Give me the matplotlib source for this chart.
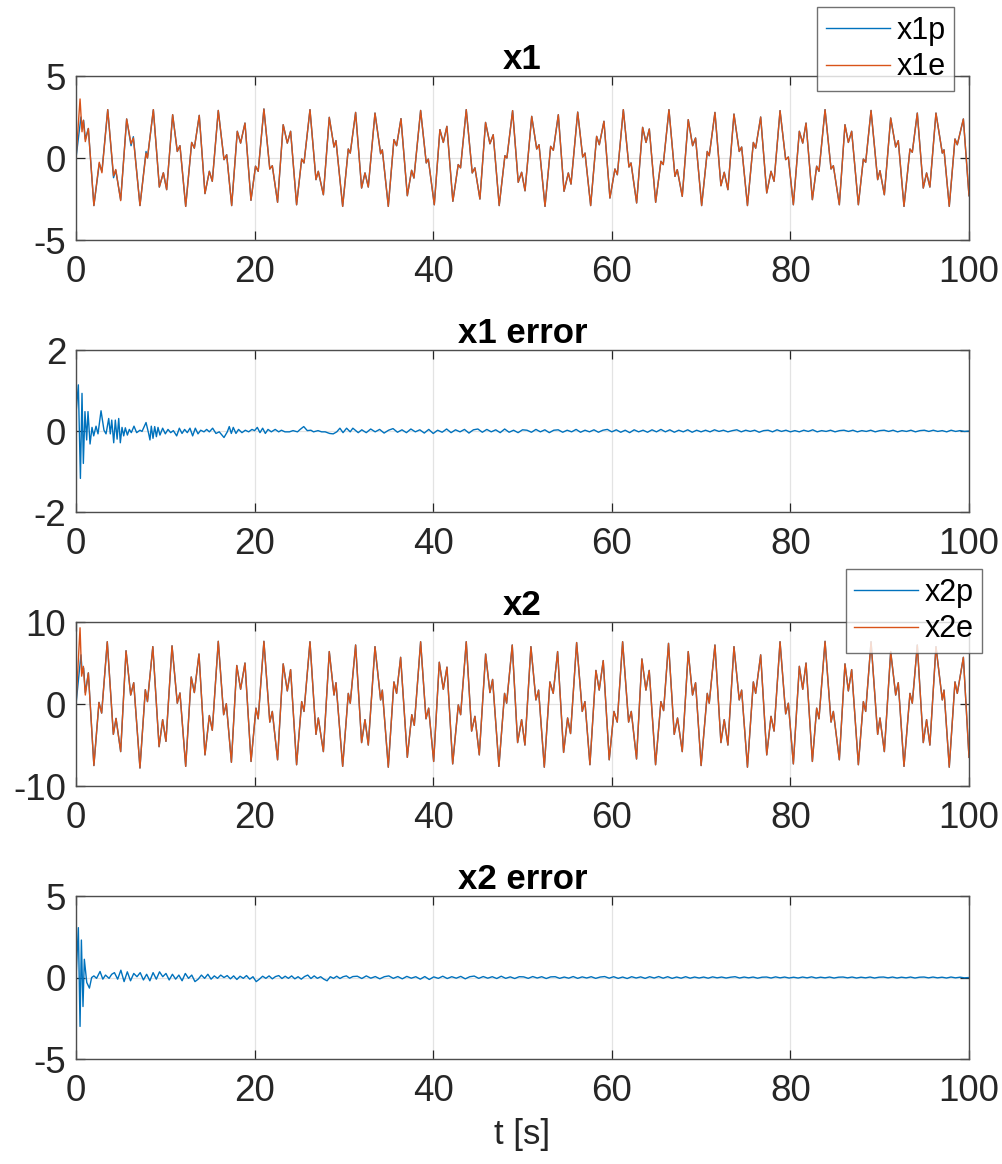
import numpy as np
import matplotlib
matplotlib.use("Agg")
import matplotlib.pyplot as plt

# ---- data (extrema of each trace) ----
x1e_t = [0, 0.45, 0.67, 0.82, 1.04, 1.38, 2.0, 2.6, 2.9, 3.55, 4.2, 4.45, 5.0, 5.67, 6.16, 6.42,
         7.16, 7.84, 8.0, 8.66, 9.33, 9.78, 10.15, 10.82, 11.34, 11.64, 12.28, 12.95, 13.25, 13.8,
         14.44, 14.93, 15.26, 15.93, 16.57, 16.87, 17.43, 18.06, 18.43, 18.92, 19.59, 20.1, 20.4,
         21.04, 21.7, 21.98, 22.57, 23.2, 23.66, 24.03, 24.7, 25.27, 25.53, 26.2, 26.87, 27.13,
         27.7, 28.36, 28.89, 29.11, 29.86, 30.49, 30.71, 31.31, 31.98, 32.36, 32.73, 33.48, 34.11,
         34.3, 34.97, 35.6, 35.9, 36.39, 37.1, 37.58, 37.84, 38.59, 39.22, 39.45, 40.12, 40.75,
         41.13, 41.53, 42.2, 42.8, 43.06, 43.7, 44.37, 44.67, 45.23, 45.86, 46.35, 46.72, 47.39,
         48.03, 48.25, 48.89, 49.52, 49.9, 50.28, 51.03, 51.59, 51.85, 52.52, 53.15, 53.45, 54.01,
         54.65, 55.13, 55.43, 56.18, 56.74, 57.0, 57.63, 58.3, 58.6, 59.12, 59.79, 60.35, 60.62,
         61.29, 61.92, 62.15, 62.78, 63.45, 63.83, 64.2, 64.91, 65.5, 65.76, 66.4, 67.07, 67.33,
         67.89, 68.56, 69.05, 69.38, 70.06, 70.69, 70.91, 71.55, 72.22, 72.59, 73.0, 73.68, 74.27,
         74.54, 75.19, 75.85, 76.11, 76.67, 77.35, 77.83, 78.17, 78.84, 79.47, 79.77, 80.33, 81.0,
         81.38, 81.75, 82.46, 82.94, 83.2, 83.88, 84.55, 84.81, 85.48, 86.11, 86.49, 86.86, 87.61,
         88.17, 88.43, 89.03, 89.77, 90.03, 90.52, 91.23, 91.79, 92.08, 92.72, 93.39, 93.65, 94.21,
         94.88, 95.25, 95.62, 96.3, 97.01, 97.2, 97.79, 98.43, 98.69, 99.37, 100.0]
x1e_v = [0, 3.6, 1.6, 2.3, 1.0, 1.8, -2.9, -0.26, -0.9, 2.95, -1.08, -0.7, -2.6, 2.38, 0.87, 1.22,
         -2.9, 0.3, 0, 2.95, -1.77, -0.9, -1.93, 2.64, 0.4, 0.75, -2.95, 0.95, 0.6, 2.6,
         -2.17, -0.81, -1.42, 2.9, -0.1, 0.2, -2.9, 1.63, 0.91, 2.13, -2.58, -0.5, -0.81,
         2.99, -0.67, -0.47, -2.7, 2.03, 0.91, 1.63, -2.85, -0.06, -0.3, 2.95, -1.32, -0.81,
         -2.24, 2.48, 0.67, 1.06, -2.95, 0.55, 0.3, 2.78, -1.83, -0.91, -1.77, 2.74, 0.26,
         0.5, -2.95, 1.12, 0.75, 2.4, -2.3, -0.75, -1.22, 2.9, -0.3, -0.06, -2.85, 1.73,
         0.95, 1.93, -2.64, -0.4, -0.6, 2.95, -0.91, -0.6, -2.5, 2.17, 0.87, 1.42, -2.9,
         0.14, 0, 2.89, -1.48, -0.87, -2.0, 2.54, 0.55, 0.81, -2.95, 0.71, 0.47, 2.64,
         -2.03, -0.91, -1.59, 2.8, 0.06, 0.3, -2.9, 1.32, 0.81, 2.24, -2.44, -0.67, -1.02,
         2.95, -0.55, -0.3, -2.74, 1.87, 0.95, 1.77, -2.7, -0.2, -0.4, 2.95, -1.12, -0.71,
         -2.34, 2.34, 0.75, 1.22, -2.9, 0.4, 0.14, 2.78, -1.69, -0.87, -1.93, 2.68, 0.4,
         0.67, -2.9, 0.95, 0.6, 2.5, -2.13, -0.81, -1.42, 2.89, -0.1, 0.06, -2.85, 1.63,
         0.91, 2.13, -2.54, -0.5, -0.81, 2.95, -0.67, -0.47, -2.85, 2.03, 0.95, 1.63, -2.85,
         -0.06, -0.26, 2.9, -1.32, -0.77, -2.24, 2.44, 0.67, 1.06, -2.95, 0.55, 0.35, 2.74,
         -1.83, -0.91, -1.77, 2.74, 0.3, 0.5, -2.95, 1.16, 0.81, 2.38, -2.3]

# observer estimate differs only at the start, then follows x1e
x1p_head_t = [0, 0.55, 0.7, 0.85, 1.04, 1.38, 2.0, 2.6, 2.9, 3.55, 4.2, 4.45, 5.0, 5.67, 6.16, 6.42, 7.16, 7.84]
x1p_head_v = [0, 2.5, 1.8, 2.3, 1.15, 1.8, -2.9, -0.35, -0.8, 2.95, -1.2, -0.75, -2.55, 2.38, 0.75, 1.3, -2.9, 0.4]

x2e_t = [0, 0.45, 0.63, 0.82, 1.04, 1.38, 2.0, 2.57, 2.87, 3.5, 4.18, 4.48, 5.0, 5.6, 6.12, 6.46,
         7.16, 7.76, 8.0, 8.6, 9.3, 9.7, 10.07, 10.75, 11.34, 11.64, 12.28, 12.9, 13.25, 13.77,
         14.44, 14.93, 15.26, 15.93, 16.53, 16.83, 17.4, 18.0, 18.43, 18.92, 19.6, 20.15, 20.4,
         21.04, 21.7, 21.98, 22.57, 23.2, 23.66, 24.03, 24.7, 25.27, 25.53, 26.2, 26.87, 27.13,
         27.7, 28.36, 28.89, 29.11, 29.86, 30.49, 30.71, 31.31, 31.98, 32.36, 32.73, 33.48, 34.11,
         34.3, 34.97, 35.6, 35.9, 36.35, 37.1, 37.6, 37.88, 38.59, 39.19, 39.49, 40.05, 40.68,
         41.13, 41.54, 42.18, 42.81, 43.07, 43.7, 44.3, 44.67, 45.16, 45.87, 46.35, 46.65, 47.36,
         47.99, 48.22, 48.85, 49.45, 49.9, 50.27, 50.94, 51.5, 51.8, 52.44, 53.07, 53.44, 53.93,
         54.6, 55.05, 55.38, 56.06, 56.69, 56.99, 57.55, 58.22, 58.59, 59.04, 59.71, 60.24, 60.61,
         61.21, 61.88, 62.18, 62.77, 63.37, 63.82, 64.19, 64.9, 65.5, 65.8, 66.35, 66.99, 67.36,
         67.89, 68.56, 69.04, 69.38, 70.0, 70.69, 70.91, 71.55, 72.22, 72.59, 73.0, 73.68, 74.27,
         74.54, 75.19, 75.85, 76.11, 76.67, 77.35, 77.83, 78.17, 78.84, 79.47, 79.77, 80.33, 81.0,
         81.38, 81.75, 82.46, 82.94, 83.2, 83.88, 84.55, 84.81, 85.48, 86.11, 86.49, 86.86, 87.61,
         88.17, 88.43, 89.03, 89.77, 90.03, 90.52, 91.23, 91.79, 92.08, 92.72, 93.39, 93.65, 94.21,
         94.88, 95.25, 95.62, 96.3, 97.01, 97.2, 97.79, 98.43, 98.69, 99.37, 100.0]
x2e_v = [0, 9.3, 3.4, 4.6, 1.1, 3.8, -7.5, 0.2, -1.1, 7.6, -3.7, -1.75, -5.8, 6.5, 1.1, 2.6,
         -7.8, 1.75, 0.3, 7.0, -5.2, -1.9, -4.55, 7.1, 0.1, 1.35, -7.6, 3.3, 1.4, 6.1,
         -6.2, -1.4, -3.2, 7.65, -1.3, 0.04, -7.1, 4.7, 1.8, 5.0, -7.0, -0.5, -1.8,
         7.65, -2.2, -0.9, -6.8, 4.9, 1.6, 4.2, -7.4, 0.3, -0.9, 7.6, -3.7, -1.7,
         -5.8, 6.4, 1.1, 2.6, -7.6, 1.3, 0.1, 7.2, -4.7, -1.9, -5.0, 7.0, 0.5,
         1.7, -7.7, 2.7, 1.3, 5.7, -6.5, -1.3, -2.6, 7.6, -1.8, -0.5, -7.0, 5.1,
         1.8, 4.5, -7.3, -0.1, -1.3, 7.6, -3.3, -1.5, -6.2, 6.1, 1.4, 3.0, -7.6,
         1.3, 0.1, 7.2, -4.7, -1.9, -5.0, 7.0, 0.5, 1.7, -7.7, 2.7, 1.3, 6.4,
         -5.9, -1.7, -3.6, 7.5, -0.9, 0.3, -7.4, 4.1, 1.7, 5.3, -6.8, -0.9, -2.2,
         7.6, -2.2, -0.9, -6.7, 5.5, 1.7, 4.1, -7.4, 0.3, -0.8, 7.4, -3.7, -1.7,
         -5.8, 6.4, 1.1, 2.6, -7.5, 1.3, 0.1, 7.2, -4.7, -1.9, -5.0, 7.0, 0.5,
         1.7, -7.7, 2.7, 1.3, 6.0, -6.2, -1.5, -3.3, 7.6, -1.2, 0.1, -7.3, 4.6,
         1.8, 5.0, -7.0, -0.5, -1.8, 7.65, -2.2, -0.9, -6.8, 4.9, 1.6, 4.2, -7.4,
         0.3, -0.9, 7.6, -3.7, -1.7, -5.8, 6.4, 1.1, 2.6, -7.6, 1.3, 0.1, 7.2,
         -4.7, -1.9, -5.0, 7.0, 0.5, 1.7, -7.7, 2.7, 1.3, 5.7, -6.5]
x2p_head_t = [0, 0.55, 0.7, 0.85, 1.04, 1.38, 2.0]
x2p_head_v = [0, 6.0, 3.8, 4.4, 1.4, 3.8, -7.5]

# x1 error: transient read point by point, then the small residual ripple
e1_t = [0, 0.26, 0.49, 0.67, 0.82, 1.0, 1.19, 1.34, 1.57, 1.79, 1.98, 2.24, 2.46, 2.8, 3.13, 3.36,
        3.66, 3.84, 4.0, 4.22, 4.4, 4.6, 4.78, 4.96, 5.15, 5.34, 5.52, 5.75, 5.97, 6.19, 6.49,
        6.79, 7.16, 7.39, 7.84, 8.13, 8.28, 8.43, 8.62, 8.81, 9.0, 9.18, 9.4, 9.7, 10.0, 10.3,
        10.6, 10.9, 11.27, 11.57, 11.87, 12.16, 12.46, 12.76, 13.06, 13.36, 13.66, 13.96, 14.33,
        14.63, 14.93, 15.3, 15.67, 16.04, 16.57, 16.94, 17.16, 17.39, 17.61, 17.91, 18.2, 18.58,
        18.96, 19.33, 19.7, 20.0, 20.3, 20.6, 20.9, 21.2, 21.5, 21.87, 22.3, 22.7, 23.0, 23.4,
        23.9, 24.3, 24.8, 25.1, 25.5, 25.9, 26.3, 26.6, 27.1, 27.5, 27.9, 28.4, 28.8, 29.2,
        29.55, 29.9, 30.3, 30.7, 31.0, 31.6]
e1_v = [0.44, 1.14, -1.17, 0.93, -0.8, 0.48, -0.22, 0.48, -0.32, 0.09, -0.12, 0.12, -0.07, 0.5, 0.02, -0.07,
        0.31, -0.07, 0.27, -0.29, 0.27, -0.2, 0.31, -0.29, 0.09, -0.12, 0.08, -0.1, 0.04, -0.04, 0.12,
        -0.04, 0.02, -0.01, 0.21, -0.06, -0.22, 0.12, -0.18, 0.11, -0.14, 0.09, -0.1, 0.07, -0.07, 0.04,
        -0.04, 0.01, -0.12, 0.07, -0.06, 0.04, -0.04, 0.07, -0.12, 0.07, -0.07, 0.02, -0.02,
        0.04, -0.02, 0.07, -0.06, -0.02, -0.16, -0.02, 0.11, -0.06, 0.09, -0.06, 0.04, -0.04,
        0.02, -0.02, 0.04, 0.01, 0.09, -0.04, 0.07, -0.06, 0.04, -0.02, 0.04, -0.02, 0.02, -0.02,
        -0.02, 0.01, -0.02, 0.04, 0.11, 0.01, 0.02, -0.02, 0.01, -0.02, -0.02, -0.06, -0.07, -0.02,
        0.07, -0.04, 0.07, -0.02, 0.07, -0.04]
e1_tail_v = [0.03, -0.04, 0.05, -0.02, 0.04, -0.05, 0.02, 0.06, -0.03, 0.03, -0.04, 0.05, -0.02,
             0.03, -0.05, 0.04, -0.06, 0.02, -0.03, 0.05, -0.04, 0.03, -0.02, 0.04, -0.05, 0.03,
             0.05, -0.03, 0.04, -0.02, 0.03, -0.04, 0.05, -0.03, 0.02, -0.04, 0.03,
             0.02, -0.03, 0.04, -0.02, 0.03, -0.04, 0.02, 0.03, -0.03, 0.02, -0.02, 0.04, -0.03,
             0.02, -0.02, 0.03, -0.03, 0.02, 0.04, -0.02, 0.03, -0.03, 0.02, -0.04, 0.03, -0.02,
             0.02, -0.03, 0.03, -0.02, 0.04, -0.02, 0.03, -0.03, 0.02, -0.02, 0.03, -0.03, 0.02, -0.02,
             0.02, -0.02, 0.03, -0.01, 0.02, -0.02, 0.01, 0.03, -0.02, 0.02, -0.01, 0.02, -0.03,
             0.01, 0.02, -0.02, 0.03, -0.01, 0.02, -0.02, 0.01, -0.02, 0.02, -0.01, 0.03, -0.02,
             0.01, -0.01, 0.02, -0.02, 0.01, 0.02, -0.01, 0.02, -0.02, 0.01, -0.01, 0.02, -0.02,
             0.01, 0.02, -0.01, 0.02, -0.02, 0.01, -0.01, 0.02, -0.02, 0.01, 0.02, -0.01, 0.02,
             -0.01, 0.01, -0.02, 0.02, -0.01, 0.01, -0.01, 0.0]

# x2 error: transient, then ripple
e2_t = [0, 0.26, 0.45, 0.6, 0.78, 0.93, 1.2, 1.5, 1.75, 2.0, 2.3, 2.69, 3.0, 3.3, 3.7, 4.0]
e2_v = [0, 3.06, -3.0, 2.3, -1.78, 1.12, -0.3, -0.65, 0.0, 0.1, -0.05, 0.37, -0.1, 0.15, -0.05, 0.2]
e2_mid_v = [0.3, -0.1, 0.45, -0.25, 0.35, -0.2, 0.25, 0.05, 0.3, -0.15, 0.2, -0.2, 0.3, -0.1,
            0.35, 0.05, 0.25, -0.15, 0.2, -0.1, 0.15, -0.2, 0.25, -0.05, 0.15, -0.25, -0.1, 0.15,
            -0.05, 0.2, -0.1, 0.1, -0.05, 0.15, 0.0, 0.12, -0.08, 0.1, -0.12, 0.08, -0.05, 0.12,
            -0.1, 0.05, -0.25, -0.1, 0.08, -0.05, 0.1, -0.08, 0.06, 0.12, -0.06, 0.08, -0.05, 0.1,
            -0.08, 0.05, -0.1, 0.06, 0.15, -0.06, 0.1, -0.05, 0.05, -0.1, -0.2, 0.05, -0.05, 0.08,
            -0.06, 0.05, 0.1, -0.04, 0.06]
e2_tail_v = [0.08, -0.06, 0.1, -0.04, 0.06, -0.08, 0.05, 0.1, -0.05, 0.06, -0.08, 0.07, -0.04,
             0.05, -0.1, 0.06, -0.12, 0.04, -0.05, 0.08, -0.06, 0.05, -0.04, 0.07, -0.08, 0.05,
             0.09, -0.05, 0.06, -0.04, 0.05, -0.06, 0.08, -0.05, 0.04, -0.06, 0.05,
             0.04, -0.05, 0.06, -0.03, 0.05, -0.06, 0.04, 0.05, -0.05, 0.03, -0.04, 0.06, -0.05,
             0.04, -0.03, 0.05, -0.05, 0.03, 0.06, -0.04, 0.05, -0.05, 0.03, -0.06, 0.05, -0.03,
             0.04, -0.05, 0.05, -0.03, 0.06, -0.04, 0.05, -0.05, 0.03, -0.04, 0.05, -0.04, 0.03, -0.03,
             0.03, -0.04, 0.04, -0.02, 0.03, -0.03, 0.02, 0.05, -0.03, 0.03, -0.02, 0.03, -0.04,
             0.02, 0.03, -0.03, 0.04, -0.02, 0.03, -0.03, 0.02, -0.03, 0.03, -0.02, 0.04, -0.03,
             0.02, -0.02, 0.03, -0.03, 0.02, 0.03, -0.02, 0.03, -0.03, 0.02, -0.02, 0.03, -0.03,
             0.02, 0.03, -0.02, 0.03, -0.03, 0.02, -0.02, 0.03, -0.03, 0.02, 0.03, -0.02, 0.03,
             -0.02, 0.02, -0.03, 0.03, -0.02, 0.02, -0.02, 0.0]

blue = "#0072BD"
orange = "#D95319"
dark = "#262626"

plt.rcParams["font.family"] = ["Liberation Sans", "DejaVu Sans"]

fig = plt.figure(figsize=(10.03, 11.64), dpi=100)
left, width = 0.0758, 0.8903
boxes = [(0.7938, 0.1409), (0.5601, 0.1392), (0.3247, 0.1409), (0.0902, 0.1400)]
axes = [fig.add_axes([left, b, width, h]) for b, h in boxes]


def style(ax, ylim, yticks, title):
    ax.set_xlim(0, 100)
    ax.set_ylim(*ylim)
    ax.set_xticks([0, 20, 40, 60, 80, 100])
    ax.set_yticks(yticks)
    ax.grid(True, color="#e3e3e3", linewidth=0.9)
    ax.set_axisbelow(True)
    ax.tick_params(direction="in", length=6.5, width=0.9, colors=dark, labelsize=26.5,
                   top=True, right=True)
    ax.tick_params(axis="x", pad=11)
    ax.tick_params(axis="y", pad=7)
    for s in ax.spines.values():
        s.set_color("#4d4d4d")
        s.set_linewidth(1.0)
    ax.set_title(title, fontsize=25, fontweight="bold", pad=5)


def add_legend(ax, anchor):
    fig.legend(*ax.get_legend_handles_labels(), loc="upper right", bbox_to_anchor=anchor,
               fontsize=22, frameon=True, fancybox=False, edgecolor="#4d4d4d", handlelength=2.1,
               borderpad=0.28, labelspacing=0.22, handletextpad=0.2, borderaxespad=0)


ax = axes[0]
x1p_t = x1p_head_t + x1e_t[len(x1p_head_t):]
x1p_v = x1p_head_v + x1e_v[len(x1p_head_v):]
ax.plot(x1p_t, x1p_v, color=blue, lw=1.0, label="x1p")
ax.plot(x1e_t, x1e_v, color=orange, lw=1.0, label="x1e")
style(ax, (-5, 5), [-5, 0, 5], "x1")
ax.set_yticklabels(["-5", "0", "5"])
add_legend(ax, (0.951, 0.994))

ax = axes[1]
t1 = e1_t + list(np.linspace(32, 100, len(e1_tail_v)))
ax.plot(t1, e1_v + e1_tail_v, color=blue, lw=1.0)
style(ax, (-2, 2), [-2, 0, 2], "x1 error")
ax.set_yticklabels(["-2", "0", "2"])

ax = axes[2]
x2p_t = x2p_head_t + x2e_t[len(x2p_head_t):]
x2p_v = x2p_head_v + x2e_v[len(x2p_head_v):]
ax.plot(x2p_t, x2p_v, color=blue, lw=1.0, label="x2p")
ax.plot(x2e_t, x2e_v, color=orange, lw=1.0, label="x2e")
style(ax, (-10, 10), [-10, 0, 10], "x2")
ax.set_yticklabels(["-10", "0", "10"])
add_legend(ax, (0.979, 0.511))

ax = axes[3]
t2 = e2_t + list(np.linspace(4.3, 31, len(e2_mid_v))) + list(np.linspace(31.5, 100, len(e2_tail_v)))
ax.plot(t2, e2_v + e2_mid_v + e2_tail_v, color=blue, lw=1.0)
style(ax, (-5, 5), [-5, 0, 5], "x2 error")
ax.set_yticklabels(["-5", "0", "5"])
ax.set_xlabel("t [s]", fontsize=25, color=dark, labelpad=6)

fig.savefig("out.png", dpi=100)
